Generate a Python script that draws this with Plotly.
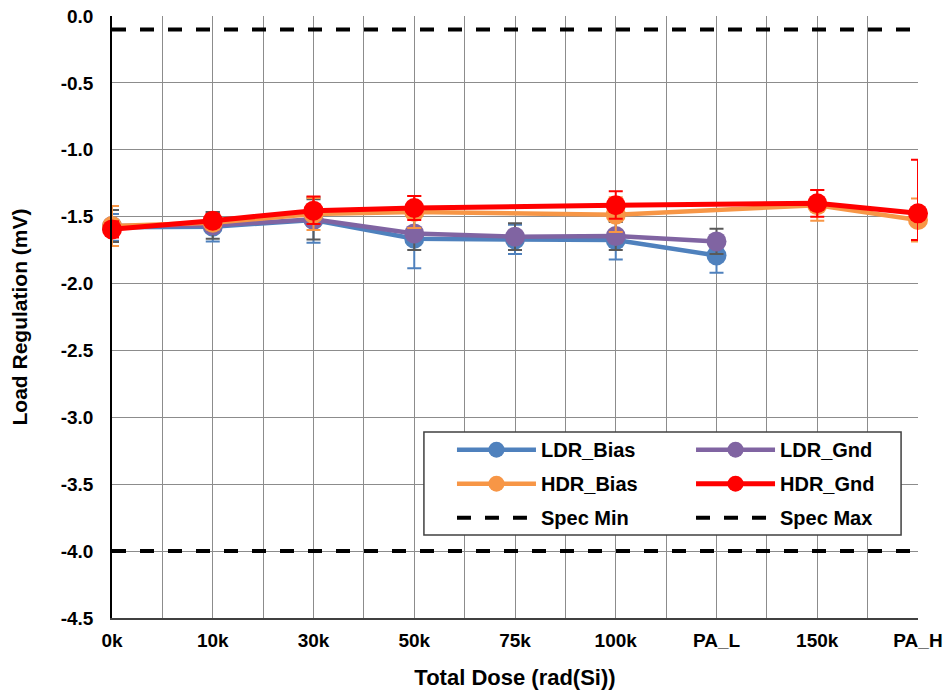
import plotly.graph_objects as go

categories = ["0k", "10k", "30k", "50k", "75k", "100k", "PA_L", "150k", "PA_H"]
ldr_x = ["0k", "10k", "30k", "50k", "75k", "100k", "PA_L"]
hdr_x = ["0k", "10k", "30k", "50k", "100k", "150k", "PA_H"]

ldr_bias = [-1.58, -1.575, -1.525, -1.665, -1.67, -1.675, -1.79]
ldr_bias_err = [0.10, 0.11, 0.17, 0.22, 0.11, 0.145, 0.13]
ldr_gnd = [-1.57, -1.565, -1.52, -1.625, -1.65, -1.645, -1.685]
ldr_gnd_err = [0.12, 0.10, 0.15, 0.125, 0.10, 0.105, 0.095]
hdr_bias = [-1.57, -1.545, -1.48, -1.465, -1.485, -1.415, -1.525]
hdr_bias_err = [0.15, 0.05, 0.12, 0.12, 0.13, 0.115, 0.16]
hdr_gnd = [-1.595, -1.53, -1.455, -1.435, -1.415, -1.40, -1.475]
hdr_gnd_err_plus = [0.06, 0.05, 0.105, 0.09, 0.105, 0.10, 0.40]
hdr_gnd_err_minus = [0.06, 0.05, 0.10, 0.09, 0.10, 0.10, 0.20]
spec_min = [-4.0] * len(categories)
spec_max = [-0.1] * len(categories)

y_ticks = [0.0, -0.5, -1.0, -1.5, -2.0, -2.5, -3.0, -3.5, -4.0, -4.5]
y_tick_labels = ["0.0", "-0.5", "-1.0", "-1.5", "-2.0", "-2.5", "-3.0", "-3.5", "-4.0", "-4.5"]

FONT = "Liberation Sans, Arial, sans-serif"


def pos(labels):
    return [categories.index(c) for c in labels]


fig = go.Figure()


def add_series(name, xs, ys, color, errcolor, plus, minus, legend, group, lw=4.5, ms=20):
    fig.add_trace(go.Scatter(
        x=pos(xs), y=ys, name="<b>%s</b>" % name, mode="lines+markers",
        line=dict(color=color, width=lw),
        marker=dict(color=color, size=ms, symbol="circle"),
        error_y=dict(type="data", array=plus, arrayminus=minus, symmetric=False,
                     color=errcolor, thickness=2, width=7),
        cliponaxis=False, legend=legend, legendgroup=group,
    ))


add_series("LDR_Bias", ldr_x, ldr_bias, "#4F81BD", "#4F81BD", ldr_bias_err, ldr_bias_err, "legend", "g1")
add_series("LDR_Gnd", ldr_x, ldr_gnd, "#8064A2", "#595959", ldr_gnd_err, ldr_gnd_err, "legend2", "g2")
add_series("HDR_Bias", hdr_x, hdr_bias, "#F79646", "#F79646", hdr_bias_err, hdr_bias_err, "legend", "g3")
add_series("HDR_Gnd", hdr_x, hdr_gnd, "#FF0000", "#FF0000", hdr_gnd_err_plus, hdr_gnd_err_minus, "legend2", "g4", lw=5)

fig.add_trace(go.Scatter(
    x=pos(categories), y=spec_min, name="<b>Spec Min</b>", mode="lines",
    line=dict(color="black", width=4, dash="14px,14px"), cliponaxis=False,
    legend="legend", legendgroup="g5"))
fig.add_trace(go.Scatter(
    x=pos(categories), y=spec_max, name="<b>Spec Max</b>", mode="lines",
    line=dict(color="black", width=4, dash="14px,14px"), cliponaxis=False,
    legend="legend2", legendgroup="g6"))

legend_font = dict(family=FONT, size=20, color="black")

fig.update_layout(
    width=946, height=690,
    margin=dict(l=112, r=28, t=16, b=72),
    paper_bgcolor="white", plot_bgcolor="white",
    font=dict(family=FONT, size=19, color="black"),
    showlegend=True,
    legend=dict(x=0.4218, y=0.312, xanchor="left", yanchor="top",
                bgcolor="rgba(0,0,0,0)", font=legend_font, itemwidth=79,
                tracegroupgap=5, traceorder="grouped"),
    legend2=dict(x=0.7184, y=0.312, xanchor="left", yanchor="top",
                 bgcolor="rgba(0,0,0,0)", font=legend_font, itemwidth=79,
                 tracegroupgap=5, traceorder="grouped"),
    shapes=[dict(type="rect", xref="paper", yref="paper",
                 x0=0.387, x1=0.979, y0=0.138, y1=0.309,
                 line=dict(color="#404040", width=1.5), fillcolor="white", layer="above")],
)

fig.update_xaxes(
    range=[0, len(categories) - 1], automargin=False,
    tickmode="array", tickvals=list(range(len(categories))),
    ticktext=["<b>%s</b>" % c for c in categories],
    tickfont=dict(family=FONT, size=19, color="black"),
    ticklabelstandoff=4, ticklabeloverflow="allow",
    showgrid=True, gridcolor="#8C8C8C", gridwidth=1,
    minor=dict(tickvals=[i + 0.5 for i in range(len(categories) - 1)],
               showgrid=True, gridcolor="#8C8C8C", gridwidth=1),
    showline=True, linecolor="#404040", linewidth=2,
    zeroline=False, ticks="",
    title=dict(text="<b>Total Dose (rad(Si))</b>", font=dict(family=FONT, size=22, color="black"), standoff=22),
)
fig.update_yaxes(
    range=[-4.5, 0.0], automargin=False,
    tickmode="array", tickvals=y_ticks, ticktext=["<b>%s</b>" % t for t in y_tick_labels],
    tickfont=dict(family=FONT, size=19, color="black"),
    ticklabelstandoff=13, ticklabeloverflow="allow",
    showgrid=True, gridcolor="#8C8C8C", gridwidth=1,
    showline=True, linecolor="black", linewidth=1.5,
    zeroline=False, ticks="",
    title=dict(text="<b>Load Regulation (mV)</b>", font=dict(family=FONT, size=21, color="black"), standoff=27),
)

fig.write_html("out.html", config={"displayModeBar": False},
               post_script="document.body.style.margin='0';")
